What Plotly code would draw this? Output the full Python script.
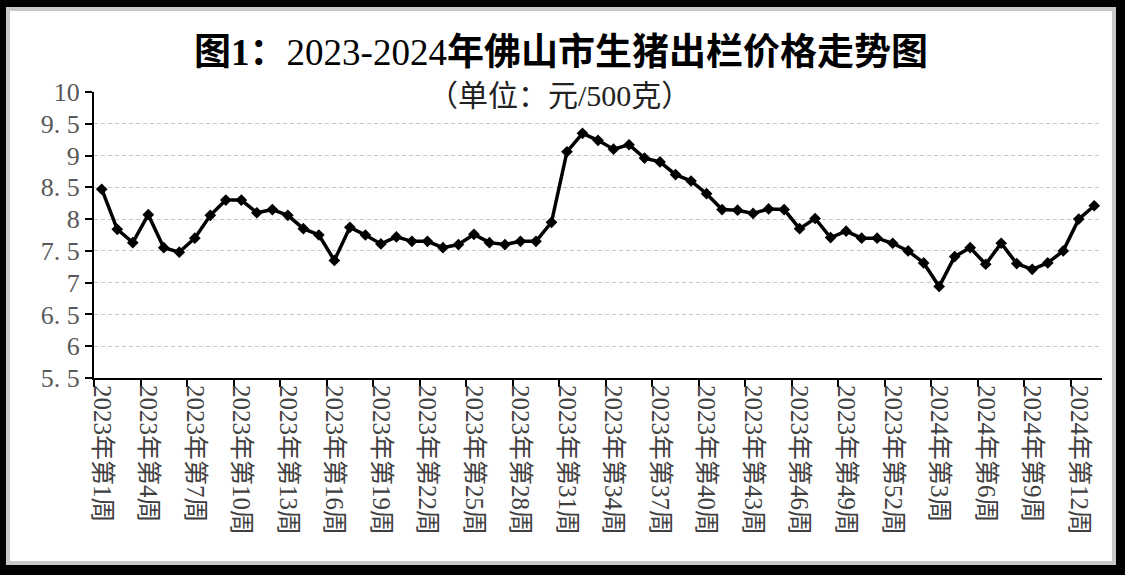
import plotly.graph_objects as go

# 周次标签
weeks_2023 = [f"2023年第{i}周" for i in range(1, 53)]
weeks_2024 = [f"2024年第{i}周" for i in range(1, 14)]
weeks = weeks_2023 + weeks_2024

# 生猪出栏价格（元/500克）
price_2023 = [8.47, 7.84, 7.63, 8.07, 7.55, 7.48, 7.70, 8.06, 8.30, 8.30,
              8.10, 8.15, 8.06, 7.85, 7.75, 7.35, 7.87, 7.75, 7.61, 7.72,
              7.65, 7.65, 7.55, 7.60, 7.76, 7.63, 7.60, 7.65, 7.65, 7.95,
              9.06, 9.35, 9.24, 9.10, 9.17, 8.96, 8.90, 8.70, 8.60, 8.40,
              8.15, 8.14, 8.09, 8.16, 8.15, 7.85, 8.01, 7.71, 7.81, 7.70,
              7.70, 7.62]
price_2024 = [7.50, 7.31, 6.94, 7.41, 7.55, 7.29, 7.62, 7.30, 7.21, 7.31,
              7.50, 8.00, 8.21]
prices = price_2023 + price_2024

y_ticks = [5.5, 6, 6.5, 7, 7.5, 8, 8.5, 9, 9.5, 10]
y_labels = ["5. 5", "6", "6. 5", "7", "7. 5", "8", "8. 5", "9", "9. 5", "10"]

FONT = "Liberation Serif, Noto Sans CJK SC, serif"

fig = go.Figure()
fig.add_trace(go.Scatter(
    x=weeks, y=prices, mode="lines+markers",
    line=dict(color="black", width=3.5),
    marker=dict(symbol="diamond", size=9, color="black"),
    showlegend=False,
))

W, H = 1125, 575
ml, mr, mt, mb = 94, 23, 92, 197
pw, ph = W - ml - mr, H - mt - mb


def px_x(v):
    return (v - ml) / pw


def px_y(v):
    return (H - mb - v) / ph


fig.update_layout(
    width=W, height=H,
    margin=dict(l=ml, r=mr, t=mt, b=mb, autoexpand=False),
    paper_bgcolor="black",
    plot_bgcolor="white",
    font=dict(family=FONT, color="#333333"),
    title=dict(
        text="<b>图1：</b>2023-2024<b>年佛山市生猪出栏价格走势图</b>",
        x=561 / W, xref="container", xanchor="center",
        y=1 - 52 / H, yref="container", yanchor="middle",
        font=dict(size=37, color="black", family=FONT),
    ),
    shapes=[dict(
        type="rect", xref="paper", yref="paper", layer="below",
        x0=px_x(8), x1=px_x(1114), y0=px_y(563), y1=px_y(9),
        fillcolor="white", line=dict(color="#c8c8c8", width=4),
    )],
    annotations=[dict(
        text="（单位：元/500克）", xref="paper", yref="paper",
        x=px_x(559), y=px_y(96), xanchor="center", yanchor="middle",
        showarrow=False, bgcolor="white",
        font=dict(size=30, color="#222222", family=FONT),
    )],
)

fig.update_xaxes(
    type="category",
    tickmode="linear", tick0=0, dtick=3,
    tickson="boundaries",
    ticks="outside", ticklen=7, tickwidth=2, tickcolor="black",
    showline=True, linecolor="black", linewidth=2,
    showgrid=False,
    tickangle=90,
    tickfont=dict(size=25, color="#404040"),
    range=[-0.5, len(weeks) - 0.5],
)

fig.update_yaxes(
    range=[5.5, 10],
    tickvals=y_ticks, ticktext=y_labels,
    ticks="outside", ticklen=7, tickwidth=2, tickcolor="black",
    showline=True, linecolor="black", linewidth=2,
    showgrid=True, gridcolor="#c8c8c8", gridwidth=1, griddash="4px,3px",
    zeroline=False,
    tickfont=dict(size=26, color="#595959"),
)

fig.write_html("out.html", config={"displayModeBar": False},
               post_script="document.body.style.margin='0';")
